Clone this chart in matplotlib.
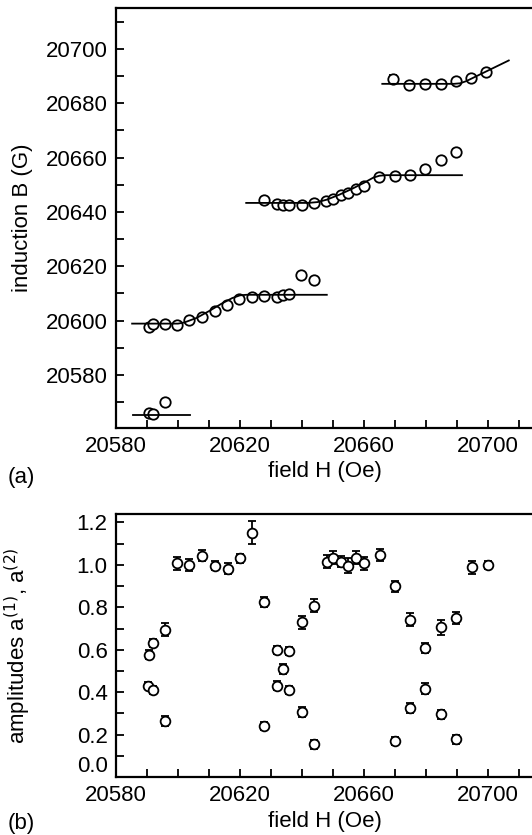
import numpy as np
import matplotlib
matplotlib.use("Agg")
import matplotlib.pyplot as plt
from matplotlib.ticker import MultipleLocator

plt.rcParams['font.family'] = ['Liberation Sans', 'DejaVu Sans']
plt.rcParams['font.size'] = 16

# (a) induction B vs field H, three branches
h_low = [20590.8, 20591.8, 20595.7]
b_low = [20566.2, 20565.8, 20569.9]
e_low = [0.6, 0.6, 0.8]

h_mid1 = [20590.5, 20591.8, 20595.7, 20599.8, 20603.6, 20607.7, 20611.8, 20615.8,
          20619.8, 20623.8, 20627.8, 20631.9, 20634.0, 20635.9, 20639.7, 20643.9]
b_mid1 = [20597.8, 20598.7, 20598.8, 20598.3, 20600.1, 20601.3, 20603.5, 20605.6,
          20607.9, 20608.7, 20609.2, 20608.7, 20609.5, 20609.8, 20616.7, 20615.1]
e_mid1 = [0.6, 0.6, 0.6, 0.6, 0.6, 0.6, 0.6, 0.6,
          0.6, 0.6, 0.6, 0.6, 0.6, 0.8, 1.0, 1.0]

h_mid2 = [20627.8, 20631.9, 20633.8, 20635.8, 20639.9, 20643.9, 20647.7, 20649.9,
          20652.5, 20654.9, 20657.4, 20660.0, 20664.9, 20670.0, 20674.8, 20679.8,
          20684.8, 20689.7]
b_mid2 = [20644.4, 20643.0, 20642.6, 20642.6, 20642.6, 20643.3, 20643.9, 20644.7,
          20646.1, 20647.1, 20648.6, 20649.5, 20652.9, 20653.1, 20653.6, 20655.9,
          20659.1, 20662.2]
e_mid2 = [1.0, 0.6, 0.6, 0.6, 0.6, 0.6, 0.6, 0.6,
          0.6, 0.6, 0.6, 0.6, 0.6, 0.6, 0.8, 0.8,
          0.9, 1.1]

h_top = [20669.4, 20674.6, 20679.6, 20684.8, 20689.6, 20694.6, 20699.5]
b_top = [20689.0, 20686.8, 20687.1, 20687.2, 20688.1, 20689.2, 20691.5]
e_top = [1.2, 0.9, 0.6, 0.6, 0.8, 0.6, 0.6]

# fitted curves
fit_low_h = [20585.4, 20604.0]
fit_low_b = [20565.4, 20565.4]
fit1_h = [20585.2, 20600.0, 20602.0, 20606.0, 20610.0, 20614.0, 20617.5, 20620.0, 20622.0, 20648.0]
fit1_b = [20598.9, 20598.9, 20599.3, 20601.0, 20603.5, 20606.2, 20608.3, 20609.3, 20609.5, 20609.5]
fit2_h = [20622.0, 20642.0, 20645.0, 20648.0, 20652.0, 20656.0, 20660.0, 20663.0, 20665.0, 20667.0, 20691.6]
fit2_b = [20643.3, 20643.3, 20643.6, 20644.5, 20646.3, 20648.4, 20650.7, 20652.6, 20653.3, 20653.5, 20653.5]
fit3_h = [20665.9, 20689.0, 20691.0, 20693.0, 20706.7]
fit3_b = [20687.1, 20687.1, 20687.3, 20688.1, 20695.7]

# (b) amplitudes a(1), a(2)
h_a1 = [20590.5, 20591.8, 20595.7, 20599.7, 20603.7, 20607.7, 20611.8, 20616.0,
        20620.0, 20623.8, 20627.9, 20631.9, 20634.0, 20635.9, 20639.9, 20644.0,
        20648.0, 20650.1, 20652.6, 20654.9, 20657.4, 20660.0, 20665.1, 20670.0,
        20674.8, 20679.8, 20684.8, 20689.7, 20694.9, 20700.0]
a1 = [0.577, 0.632, 0.695, 1.008, 1.000, 1.044, 0.997, 0.983,
      1.031, 1.152, 0.825, 0.598, 0.510, 0.593, 0.729, 0.808,
      1.016, 1.034, 1.016, 0.997, 1.034, 1.008, 1.047, 0.899,
      0.742, 0.609, 0.706, 0.750, 0.989, 1.000]
e_a1 = [0.02, 0.02, 0.03, 0.03, 0.03, 0.025, 0.02, 0.025,
        0.02, 0.055, 0.025, 0.02, 0.025, 0.02, 0.03, 0.03,
        0.03, 0.03, 0.025, 0.035, 0.03, 0.03, 0.03, 0.025,
        0.03, 0.025, 0.035, 0.03, 0.03, 0.02]
h_a2 = [20590.2, 20591.8, 20595.7, 20627.9, 20631.9, 20635.8, 20639.9, 20644.0,
        20670.0, 20674.8, 20679.8, 20684.8, 20689.7]
a2 = [0.431, 0.409, 0.264, 0.240, 0.431, 0.409, 0.307, 0.154,
      0.169, 0.326, 0.416, 0.295, 0.177]
e_a2 = [0.015, 0.02, 0.025, 0.02, 0.02, 0.02, 0.025, 0.02,
        0.02, 0.025, 0.025, 0.02, 0.02]

h_ticks = [20580, 20620, 20660, 20700]
a_ticks = [0.0, 0.2, 0.4, 0.6, 0.8, 1.0, 1.2]
a_labels = ["0.0", "0.2", "0.4", "0.6", "0.8", "1.0", "1.2"]

W, H = 532, 835
fig = plt.figure(figsize=(W / 100, H / 100), dpi=100)
ax1 = fig.add_axes([116 / W, (H - 428) / H, 418.5 / W, 420 / H])
ax2 = fig.add_axes([116 / W, (H - 777) / H, 418.5 / W, 263 / H])

ebkw = dict(fmt='o', mfc='white', mec='black', ecolor='black', ms=7.5, mew=1.3,
            elinewidth=1.3, capsize=3, capthick=1.3)

for hh, bb, ee in [(h_low, b_low, e_low), (h_mid1, b_mid1, e_mid1),
                   (h_mid2, b_mid2, e_mid2), (h_top, b_top, e_top)]:
    ax1.errorbar(hh, bb, yerr=ee, **ebkw)
for fh, fb in [(fit_low_h, fit_low_b), (fit1_h, fit1_b), (fit2_h, fit2_b), (fit3_h, fit3_b)]:
    ax1.plot(fh, fb, color='black', lw=1.3, zorder=5)

ebkw2 = dict(ebkw, ms=7)
ax2.errorbar(h_a1, a1, yerr=e_a1, **ebkw2)
ax2.errorbar(h_a2, a2, yerr=e_a2, **ebkw2)

for ax in (ax1, ax2):
    ax.set_xlim(20580, 20715)
    ax.set_xticks(h_ticks)
    ax.xaxis.set_minor_locator(MultipleLocator(10))
    ax.tick_params(which='both', direction='in', length=6, width=1.3,
                   top=False, right=False, pad=6)
    for s in ax.spines.values():
        s.set_linewidth(1.6)
    ax.set_xlabel("field H (Oe)", labelpad=3)

ax1.set_ylim(20560.5, 20715)
ax1.yaxis.set_major_locator(MultipleLocator(20))
ax1.yaxis.set_minor_locator(MultipleLocator(10))
ax1.set_ylabel("induction B (G)")
ax1.yaxis.set_label_coords(-0.198, 0.5)

ax2.set_ylim(0, 1.24)
ax2.set_yticks(a_ticks, a_labels)
ax2.yaxis.set_minor_locator(MultipleLocator(0.1))
ax2.get_yticklabels()[0].set_va('bottom')  # "0.0" sits a bit higher, clear of 20580
ax2.set_ylabel("amplitudes a$^{(1)}$, a$^{(2)}$")
ax2.yaxis.set_label_coords(-0.198, 0.5)

fig.text(8 / W, 1 - 477 / H, "(a)", ha='left', va='center')
fig.text(8 / W, 1 - 824 / H, "(b)", ha='left', va='center')

fig.savefig("out.png", dpi=100)
